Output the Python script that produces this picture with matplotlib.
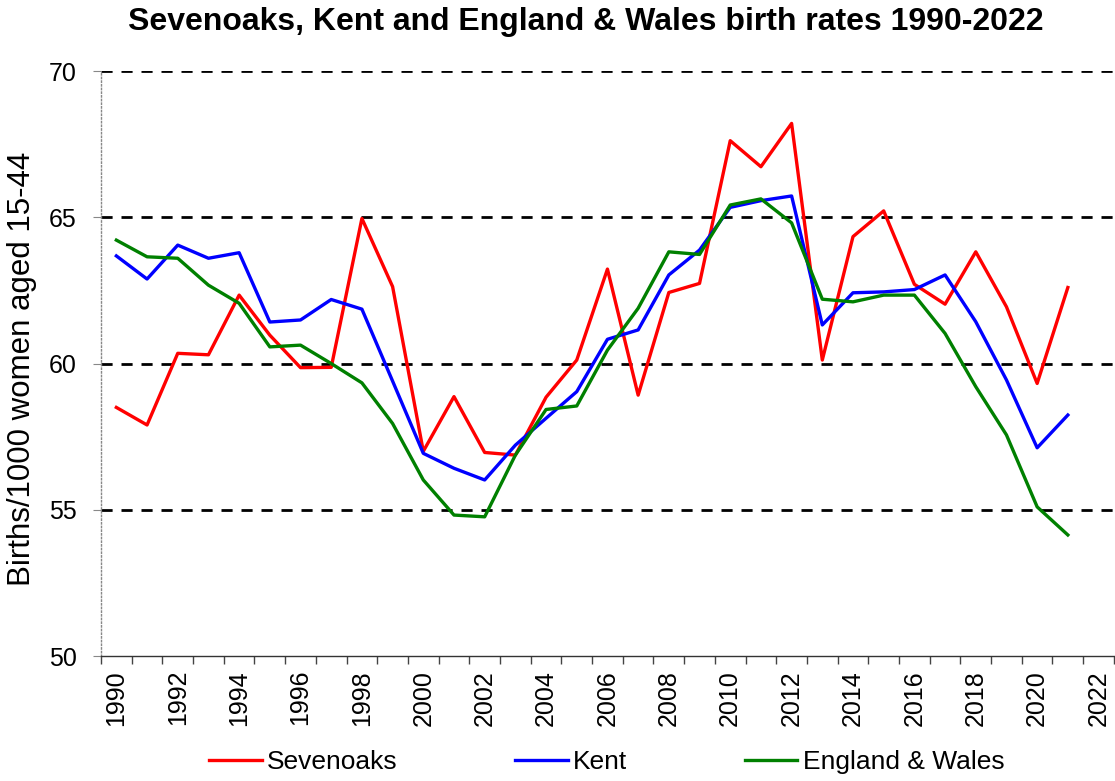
import matplotlib
matplotlib.use("Agg")
import matplotlib.pyplot as plt
import numpy as np

plt.rcParams['font.family'] = ['Liberation Sans', 'DejaVu Sans']

years = list(range(1990, 2022))
sevenoaks = [58.5, 57.9, 60.35, 60.3, 62.34, 60.97, 59.86, 59.87, 64.96, 62.63,
             57.0, 58.87, 56.96, 56.87, 58.85, 60.12, 63.23, 58.92, 62.43, 62.74,
             67.62, 66.73, 68.21, 60.12, 64.34, 65.22, 62.71, 62.03, 63.82, 61.94,
             59.32, 62.6]
kent = [63.68, 62.89, 64.05, 63.6, 63.79, 61.42, 61.49, 62.19, 61.86, 59.4,
        56.93, 56.42, 56.02, 57.21, 58.13, 59.04, 60.83, 61.15, 63.03, 63.88,
        65.34, 65.57, 65.73, 61.32, 62.42, 62.45, 62.53, 63.03, 61.43, 59.44,
        57.12, 58.24]
eng_wales = [64.22, 63.65, 63.6, 62.68, 62.06, 60.57, 60.63, 60.0, 59.34, 57.95,
             56.02, 54.82, 54.76, 56.87, 58.43, 58.55, 60.46, 61.89, 63.82, 63.73,
             65.42, 65.63, 64.81, 62.2, 62.11, 62.34, 62.34, 61.03, 59.21, 57.56,
             55.1, 54.14]
tick_years = list(range(1990, 2023, 2))
y_ticks = [50, 55, 60, 65, 70]

fig = plt.figure(figsize=(11.15, 7.81), dpi=100)
ax = fig.add_axes([0.0906, 0.16, 0.9084, 0.749])

for yv in y_ticks[1:]:
    ax.axhline(yv, color='black', lw=2, ls=(0, (4, 3.2)), zorder=1)

ax.plot(years, sevenoaks, color='#FF0000', lw=2.4, label='Sevenoaks', zorder=3)
ax.plot(years, kent, color='#0000FF', lw=2.4, label='Kent', zorder=3)
ax.plot(years, eng_wales, color='#008000', lw=2.4, label='England & Wales', zorder=3)

ax.set_xlim(1989.5, 2022.5)
ax.set_ylim(50, 70)
ax.set_yticks(y_ticks)
ax.set_yticklabels([str(v) for v in y_ticks], fontsize=18)
ax.set_xticks(tick_years)
ax.set_xticklabels([str(v) for v in tick_years], rotation=90, fontsize=18)
ax.set_xticks(np.arange(1989.5, 2023, 1.0), minor=True)
ax.tick_params(axis='x', which='major', length=0, pad=10)
ax.tick_params(axis='x', which='minor', length=6, width=1, color='#444444', direction='out')
ax.tick_params(axis='y', length=6, width=0.8, color='#888888', pad=11.5)

for s in ['top', 'right']:
    ax.spines[s].set_visible(False)
ax.spines['left'].set_color('#888888')
ax.spines['left'].set_linestyle(':')
ax.spines['left'].set_linewidth(1)
ax.spines['bottom'].set_color('#333333')
ax.spines['bottom'].set_linewidth(1)

fig.text(22 / 1115, 1 - 369 / 781, 'Births/1000 women aged 15-44', rotation=90,
         ha='center', va='center', fontsize=22.5)
fig.text(0.525, 0.972, 'Sevenoaks, Kent and England & Wales birth rates 1990-2022',
         ha='center', va='center', fontsize=23, fontweight='bold')

fig.legend(loc='center', bbox_to_anchor=(0.544, 0.024), ncol=3, frameon=False,
           fontsize=19, handlelength=2.0, columnspacing=4.45, handletextpad=0.2,
           borderpad=0, borderaxespad=0)

fig.savefig('out.png', dpi=100)
